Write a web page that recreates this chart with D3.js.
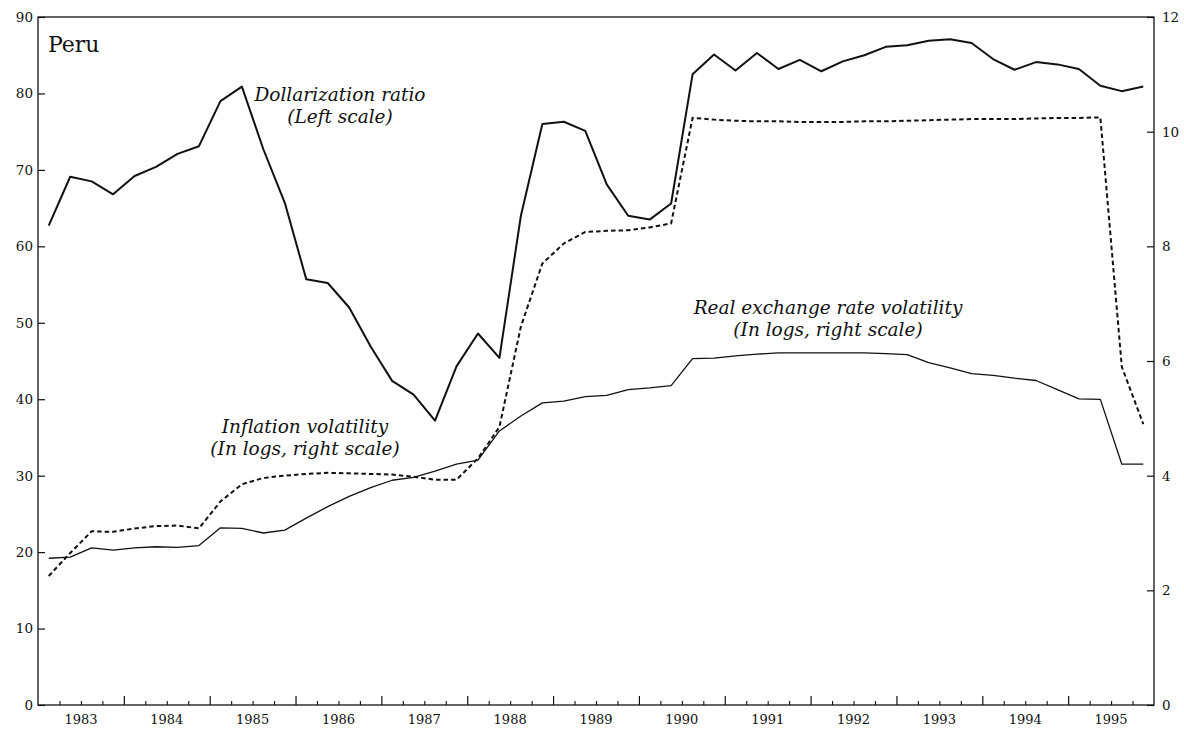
<!DOCTYPE html>
<html>
<head>
<meta charset="utf-8">
<script src="https://cdn.jsdelivr.net/npm/d3@7/dist/d3.min.js"></script>
<style>
  html, body { margin: 0; padding: 0; background: #fff; }
  svg { display: block; }
  text { font-family: "DejaVu Serif", "Liberation Serif", serif; fill: #111; }
</style>
</head>
<body>
<svg id="chart" width="1184" height="730"></svg>
<script>
// ---------- data (quarterly, 1983Q1 - 1995Q4) ----------
const quarters = [
  "1983Q1","1983Q2","1983Q3","1983Q4","1984Q1","1984Q2","1984Q3","1984Q4",
  "1985Q1","1985Q2","1985Q3","1985Q4","1986Q1","1986Q2","1986Q3","1986Q4",
  "1987Q1","1987Q2","1987Q3","1987Q4","1988Q1","1988Q2","1988Q3","1988Q4",
  "1989Q1","1989Q2","1989Q3","1989Q4","1990Q1","1990Q2","1990Q3","1990Q4",
  "1991Q1","1991Q2","1991Q3","1991Q4","1992Q1","1992Q2","1992Q3","1992Q4",
  "1993Q1","1993Q2","1993Q3","1993Q4","1994Q1","1994Q2","1994Q3","1994Q4",
  "1995Q1","1995Q2","1995Q3","1995Q4"
];
// Dollarization ratio (left scale, %)
const dollarization = [
  62.7, 69.1, 68.5, 66.8, 69.2, 70.4, 72.1, 73.1, 79.0, 80.9,
  72.7, 65.7, 55.7, 55.2, 52.0, 46.9, 42.4, 40.6, 37.2, 44.3,
  48.6, 45.4, 64.0, 76.0, 76.3, 75.1, 68.1, 64.0, 63.5, 65.6,
  82.5, 85.1, 83.0, 85.3, 83.2, 84.4, 82.9, 84.2, 85.0, 86.1,
  86.3, 86.9, 87.1, 86.6, 84.5, 83.1, 84.1, 83.8, 83.2, 81.0,
  80.3, 80.9
];
// Inflation volatility (in logs, right scale)
const inflationVol = [
  2.25, 2.65, 3.03, 3.02, 3.08, 3.12, 3.13, 3.08, 3.55, 3.85,
  3.96, 4.00, 4.03, 4.05, 4.04, 4.03, 4.02, 3.98, 3.93, 3.93,
  4.30, 4.85, 6.60, 7.70, 8.05, 8.25, 8.27, 8.28, 8.33, 8.40,
  10.24, 10.21, 10.19, 10.18, 10.18, 10.17, 10.17, 10.17, 10.18, 10.18,
  10.19, 10.20, 10.21, 10.22, 10.22, 10.22, 10.23, 10.24, 10.24, 10.25,
  5.90, 4.90
];
// Real exchange rate volatility (in logs, right scale)
const rerVol = [
  2.56, 2.58, 2.74, 2.70, 2.74, 2.76, 2.75, 2.78, 3.09, 3.08,
  3.00, 3.05, 3.26, 3.46, 3.64, 3.79, 3.92, 3.97, 4.08, 4.20,
  4.27, 4.78, 5.04, 5.27, 5.30, 5.38, 5.40, 5.50, 5.53, 5.57,
  6.04, 6.05, 6.09, 6.12, 6.14, 6.14, 6.14, 6.14, 6.14, 6.13,
  6.11, 5.97, 5.88, 5.78, 5.75, 5.70, 5.66, 5.50, 5.34, 5.33,
  4.20, 4.20
];
const yearLabels = ["1983","1984","1985","1986","1987","1988","1989","1990","1991","1992","1993","1994","1995"];
const leftTicks = [0, 10, 20, 30, 40, 50, 60, 70, 80, 90];
const rightTicks = [0, 2, 4, 6, 8, 10, 12];

// ---------- layout ----------
const L = 38, R = 1154, T = 17, B = 705;
const svg = d3.select("#chart");

// quarter label -> decimal year at mid-quarter
const qTime = q => +q.slice(0, 4) + (+q.slice(5) - 0.5) / 4;

const x = d3.scaleLinear().domain([+yearLabels[0], +yearLabels[yearLabels.length - 1] + 1]).range([L, R]);
const yL = d3.scaleLinear().domain([0, 90]).range([B, T]);
const yR = d3.scaleLinear().domain([0, 12]).range([B, T]);

// frame
svg.append("rect").attr("x", L).attr("y", T).attr("width", R - L).attr("height", B - T)
  .attr("fill", "none").attr("stroke", "#111").attr("stroke-width", 1.3);

// left axis (ticks inward)
const leftAxis = d3.axisRight(yL).tickValues(leftTicks).tickSize(7).tickFormat("");
const gL = svg.append("g").attr("transform", `translate(${L},0)`).call(leftAxis);
gL.select(".domain").remove();
gL.selectAll("line").attr("stroke", "#111").attr("stroke-width", 1.2);
svg.append("g").selectAll("text").data(leftTicks).join("text")
  .attr("x", L - 5).attr("y", d => yL(d)).attr("dy", "0.36em")
  .attr("text-anchor", "end").attr("font-size", 13.5).text(d => d);

// right axis (ticks inward)
const rightAxis = d3.axisLeft(yR).tickValues(rightTicks).tickSize(7).tickFormat("");
const gR = svg.append("g").attr("transform", `translate(${R},0)`).call(rightAxis);
gR.select(".domain").remove();
gR.selectAll("line").attr("stroke", "#111").attr("stroke-width", 1.2);
svg.append("g").selectAll("text").data(rightTicks).join("text")
  .attr("x", R + 8).attr("y", d => yR(d)).attr("dy", "0.36em")
  .attr("text-anchor", "start").attr("font-size", 13.5).text(d => d);

// bottom axis: major ticks at year starts, minor at quarters, pointing inward
const majorT = yearLabels.slice(1).map(d => +d);
const minorT = [];
yearLabels.forEach(y => { [0.25, 0.5, 0.75].forEach(f => minorT.push(+y + f)); });
const gMaj = svg.append("g").attr("transform", `translate(0,${B})`)
  .call(d3.axisTop(x).tickValues(majorT).tickSize(9).tickFormat(""));
gMaj.select(".domain").remove();
gMaj.selectAll("line").attr("stroke", "#111").attr("stroke-width", 1.2);
const gMin = svg.append("g").attr("transform", `translate(0,${B})`)
  .call(d3.axisTop(x).tickValues(minorT).tickSize(4).tickFormat(""));
gMin.select(".domain").remove();
gMin.selectAll("line").attr("stroke", "#111").attr("stroke-width", 1.1);
svg.append("g").selectAll("text").data(yearLabels).join("text")
  .attr("x", d => x(+d + 0.5)).attr("y", 724)
  .attr("text-anchor", "middle").attr("font-size", 13).text(d => d);

// lines
const lineL = d3.line().x((d, i) => x(qTime(quarters[i]))).y(d => yL(d));
const lineR = d3.line().x((d, i) => x(qTime(quarters[i]))).y(d => yR(d));

svg.append("path").datum(rerVol).attr("d", lineR)
  .attr("fill", "none").attr("stroke", "#111").attr("stroke-width", 1.3).attr("stroke-linejoin", "round");
svg.append("path").datum(inflationVol).attr("d", lineR)
  .attr("fill", "none").attr("stroke", "#111").attr("stroke-width", 2).attr("stroke-dasharray", "4.5,3");
svg.append("path").datum(dollarization).attr("d", lineL)
  .attr("fill", "none").attr("stroke", "#111").attr("stroke-width", 2).attr("stroke-linejoin", "round");

// annotations
svg.append("text").attr("x", 48).attr("y", 52).attr("font-size", 22).text("Peru");

function note(cx, y1, lines) {
  const t = svg.append("text").attr("text-anchor", "middle").attr("font-style", "italic").attr("font-size", 18.5);
  lines.forEach((s, k) => t.append("tspan").attr("x", cx).attr("y", y1 + k * 22).text(s));
}
note(340, 101, ["Dollarization ratio", "(Left scale)"]);
note(305, 433, ["Inflation volatility", "(In logs, right scale)"]);
note(828, 314, ["Real exchange rate volatility", "(In logs, right scale)"]);
</script>
</body>
</html>
